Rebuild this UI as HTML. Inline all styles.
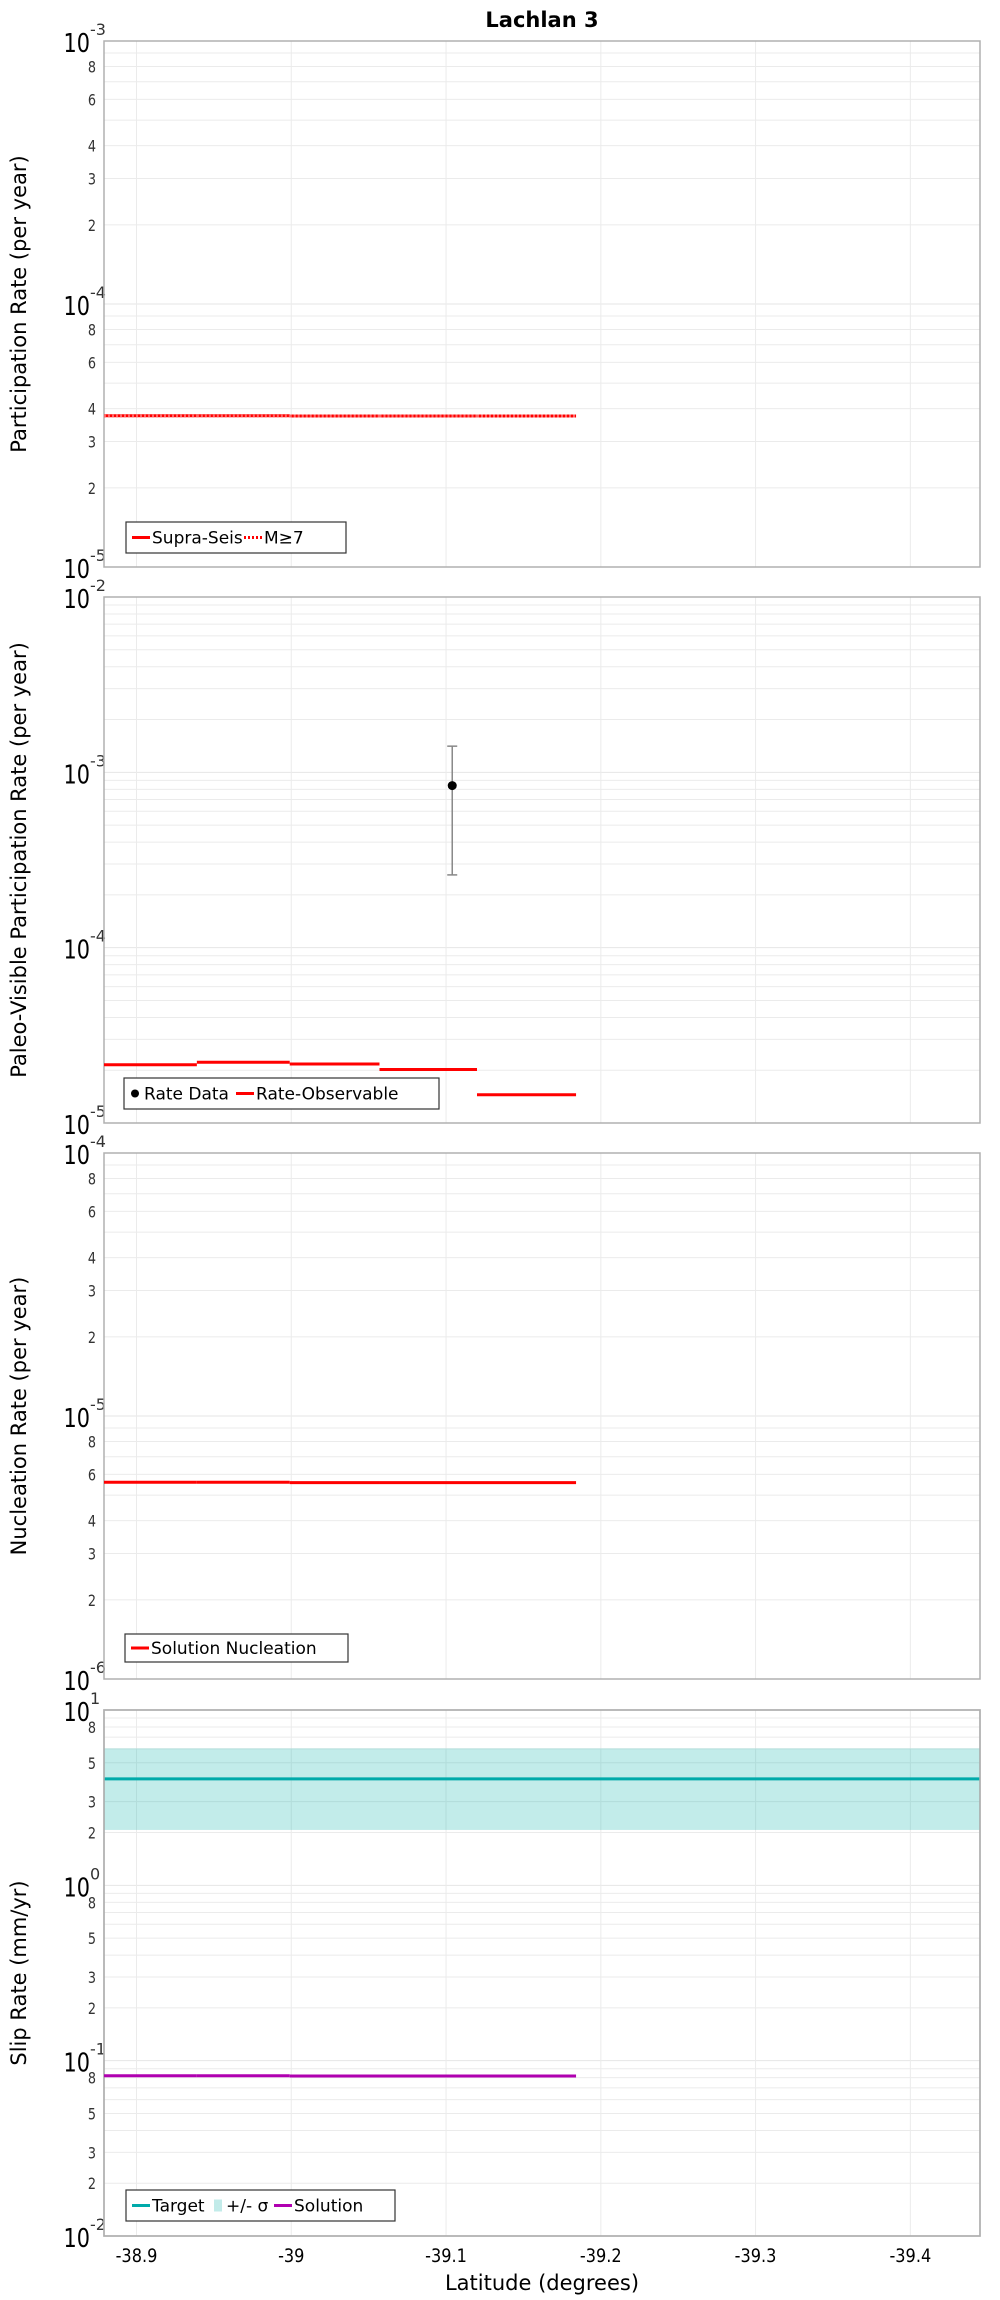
<!DOCTYPE html>
<html><head><meta charset="utf-8"><style>
body{margin:0;background:#fff;}
svg{display:block;font-family:"DejaVu Sans","Liberation Sans",sans-serif;}
</style></head><body>
<svg id="c" width="1000" height="2300" xmlns="http://www.w3.org/2000/svg">
<text x="542" y="27" text-anchor="middle" font-size="21" font-weight="bold">Lachlan 3</text>
<text x="542" y="2290" text-anchor="middle" font-size="21">Latitude (degrees)</text>
</svg>
<script>
// x extents & section boundaries (latitude)
const xDomain = [-38.879, -39.445];
const xTicks = [-38.9, -39, -39.1, -39.2, -39.3, -39.4];
const xTickLabels = ["-38.9", "-39", "-39.1", "-39.2", "-39.3", "-39.4"];
const sectionEdges = [-38.879, -38.939, -38.999, -39.057, -39.120, -39.184];
// panel 1
const p1Domain = [-5, -3];
const supraSeis = [3.76e-5, 3.76e-5, 3.75e-5, 3.75e-5, 3.75e-5];
// panel 2
const p2Domain = [-5, -2];
const rateObservable = [2.15e-5, 2.22e-5, 2.17e-5, 2.02e-5, 1.45e-5];
const rateDataLat = [-39.104];
const rateDataVal = [8.4e-4];
const rateDataLo = [2.6e-4];
const rateDataHi = [1.41e-3];
// panel 3
const p3Domain = [-6, -4];
const nucleation = [5.6e-6, 5.6e-6, 5.58e-6, 5.58e-6, 5.58e-6];
// panel 4
const p4Domain = [-2, 1];
const targetSlip = [4.05];
const sigmaLo = [2.07];
const sigmaHi = [6.04];
const solutionSlip = [0.082, 0.082, 0.0818, 0.0817, 0.0817];

const svg = document.getElementById('c');
const NS = 'http://www.w3.org/2000/svg';
const L = 104, R = 980, H = 526;
const tops = [41, 597, 1153, 1710];
function X(lat){ return L + (lat - xDomain[0]) / (xDomain[1] - xDomain[0]) * (R - L); }
function mk(tag, attrs, parent){
  const e = document.createElementNS(NS, tag);
  for (const k in attrs) e.setAttribute(k, attrs[k]);
  (parent || svg).appendChild(e);
  return e;
}
function yFn(top, dom){ return v => top + H - (Math.log10(v) - dom[0]) / (dom[1] - dom[0]) * H; }

function axes(top, dom, minorLabels, title, name){
  const g = mk('g', {});
  
  
  const Y = yFn(top, dom);
  mk('rect', {x:L, y:top, width:R-L, height:H, fill:'#fff'}, g);
  for (let e = dom[0]; e < dom[1]; e++){
    for (let m = 2; m <= 9; m++){
      const y = Y(m * Math.pow(10, e));
      mk('line', {x1:L, x2:R, y1:y, y2:y, stroke:'#ebebeb', 'stroke-width':1}, g);
      if (minorLabels.indexOf(m) >= 0){
        const t = mk('text', {x:L-8, y:y+6, 'text-anchor':'end', 'font-size':16, fill:'#333', transform:`translate(${L-8},0) scale(0.8,1) translate(${-(L-8)},0)`}, g);
        t.textContent = m;
        
        
      }
    }
  }
  for (let e = dom[0]; e <= dom[1]; e++){
    const y = Y(Math.pow(10, e));
    mk('line', {x1:L, x2:R, y1:y, y2:y, stroke:'#e6e6e6', 'stroke-width':1}, g);
    const t = mk('text', {x:L-14, y:y+11, 'text-anchor':'end', 'font-size':26, fill:'#000', transform:`translate(${L-14},0) scale(0.8,1) translate(${-(L-14)},0)`}, g);
    t.textContent = '10';
    
    
    const s = mk('text', {x:L-14, y:y-6, 'text-anchor':'start', 'font-size':16, fill:'#333'}, g);
    s.textContent = String(e);
    
    
  }
  xTicks.forEach(v => {
    mk('line', {x1:X(v), x2:X(v), y1:top, y2:top+H, stroke:'#ebebeb', 'stroke-width':1}, g);
  });
  mk('rect', {x:L, y:top, width:R-L, height:H, fill:'none', stroke:'#b0b0b0', 'stroke-width':1.5}, g);
  const cy = top + H/2;
  const t = mk('text', {x:20, y:cy, 'text-anchor':'middle', 'font-size':21, 'dominant-baseline':'middle', transform:`rotate(-90 20 ${cy})`}, g);
  t.textContent = title;
  
  
  return {g, Y};
}
function steps(arr, Y, color, g, nm, dash){
  arr.forEach((v, i) => {
    const l = mk('line', {x1:X(sectionEdges[i]), x2:X(i+1 < sectionEdges.length ? sectionEdges[i+1] : sectionEdges[i]), y1:Y(v), y2:Y(v), stroke:color, 'stroke-width':3}, g);
    if (dash) l.setAttribute('stroke-dasharray', dash);
    
    
  });
}
function legend(g, x, y, w, h, items){
  const lg = mk('g', {}, g);
  
  
  mk('rect', {x, y, width:w, height:h, fill:'#fff', stroke:'#333', 'stroke-width':1.2}, lg);
  let cx = x + 6;
  items.forEach(it => {
    if (it.type === 'dot') { mk('circle', {cx:cx+5, cy:y+h/2, r:4, fill:'#000'}, lg); cx += 14; }
    else if (it.type === 'box') { mk('rect', {x:cx, y:y+h/2-6, width:8, height:12, fill:'#c2ebe9'}, lg); cx += 12; }
    else { const l = mk('line', {x1:cx, x2:cx+18, y1:y+h/2, y2:y+h/2, stroke:it.color, 'stroke-width':3}, lg); if (it.dash) l.setAttribute('stroke-dasharray', it.dash); cx += 20; }
    const t = mk('text', {x:cx, y:y+h/2+6, 'font-size':17}, lg);
    t.textContent = it.label;
    
    
    cx += it.w;
  });
}

// Panel 1
let p = axes(tops[0], p1Domain, [2,3,4,6,8], 'Participation Rate (per year)', 'participation');
steps(supraSeis, p.Y, '#ff0000', p.g, 'supra-seis');
steps(supraSeis, p.Y, '#ff6666', p.g, 'm7', '2,2');
legend(p.g, 126, 522, 220, 31, [{color:'#ff0000', label:'Supra-Seis', w:92}, {color:'#ff0000', dash:'2,2', label:'M≥7', w:40}]);

// Panel 2
p = axes(tops[1], p2Domain, [], 'Paleo-Visible Participation Rate (per year)', 'paleo');
steps(rateObservable, p.Y, '#ff0000', p.g, 'rate-observable');
rateDataLat.forEach((lat, i) => {
  const x = X(lat);
  const Y = p.Y;
  mk('line', {x1:x, x2:x, y1:Y(rateDataHi[i]), y2:Y(rateDataLo[i]), stroke:'#888', 'stroke-width':1.5}, p.g);
  mk('line', {x1:x-5, x2:x+5, y1:Y(rateDataHi[i]), y2:Y(rateDataHi[i]), stroke:'#888', 'stroke-width':1.5}, p.g);
  mk('line', {x1:x-5, x2:x+5, y1:Y(rateDataLo[i]), y2:Y(rateDataLo[i]), stroke:'#888', 'stroke-width':1.5}, p.g);
  const c = mk('circle', {cx:x, cy:Y(rateDataVal[i]), r:4.5, fill:'#000'}, p.g);
  
  
});
legend(p.g, 124, 1078, 315, 31, [{type:'dot', label:'Rate Data', w:92}, {color:'#ff0000', label:'Rate-Observable', w:160}]);

// Panel 3
p = axes(tops[2], p3Domain, [2,3,4,6,8], 'Nucleation Rate (per year)', 'nucleation');
steps(nucleation, p.Y, '#ff0000', p.g, 'solution-nucleation');
legend(p.g, 125, 1634, 223, 28, [{color:'#ff0000', label:'Solution Nucleation', w:160}]);

// Panel 4
p = axes(tops[3], p4Domain, [2,3,5,8], 'Slip Rate (mm/yr)', 'slip');
{
  const Y = p.Y;
  const b = mk('rect', {x:L, y:Y(sigmaHi[0]), width:R-L, height:Y(sigmaLo[0])-Y(sigmaHi[0]), fill:'#00b0a8', 'fill-opacity':0.24}, p.g);
  
  
  const t = mk('line', {x1:L, x2:R, y1:Y(targetSlip[0]), y2:Y(targetSlip[0]), stroke:'#00aaaa', 'stroke-width':3}, p.g);
  
  
  mk('rect', {x:L, y:tops[3], width:R-L, height:H, fill:'none', stroke:'#b0b0b0', 'stroke-width':1.5}, p.g);
}
steps(solutionSlip, p.Y, '#b000b0', p.g, 'solution-slip');
legend(p.g, 126, 2190, 269, 31, [{color:'#00aaaa', label:'Target', w:62}, {type:'box', label:'+/- σ', w:48}, {color:'#b000b0', label:'Solution', w:80}]);

// x tick labels
xTicks.forEach((v, i) => {
  const t = mk('text', {x:X(v), y:2262, 'text-anchor':'middle', 'font-size':19, transform:`translate(${X(v)},0) scale(0.85,1) translate(${-X(v)},0)`});
  t.textContent = xTickLabels[i];
  
  
});
</script>
</body></html>
